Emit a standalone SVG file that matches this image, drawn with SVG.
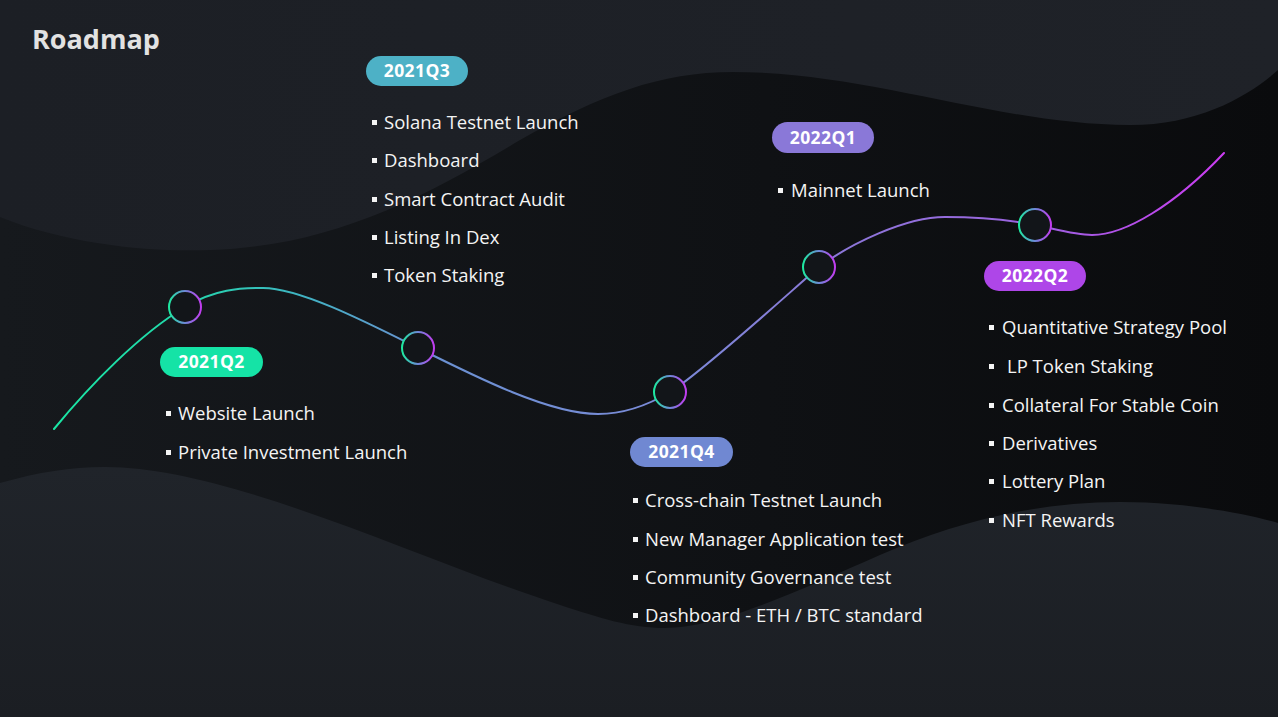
<svg xmlns="http://www.w3.org/2000/svg" width="1278" height="717" viewBox="0 0 1278 717">
  <defs>
    <linearGradient id="bg" x1="0" y1="0" x2="1" y2="0">
      <stop offset="0" stop-color="#16191d"/>
      <stop offset="0.6" stop-color="#0f1114"/>
      <stop offset="1" stop-color="#0a0b0d"/>
    </linearGradient>
    <linearGradient id="topwave" x1="0" y1="0" x2="1" y2="0">
      <stop offset="0" stop-color="#1c1f25"/>
      <stop offset="1" stop-color="#1f2228"/>
    </linearGradient>
    <linearGradient id="botwave" x1="0" y1="0" x2="0" y2="1">
      <stop offset="0" stop-color="#20242a"/>
      <stop offset="1" stop-color="#1b1e23"/>
    </linearGradient>
    <linearGradient id="curve" gradientUnits="userSpaceOnUse" x1="54" y1="0" x2="1224" y2="0">
      <stop offset="0" stop-color="#19e6a4"/>
      <stop offset="0.11" stop-color="#22d9ab"/>
      <stop offset="0.21" stop-color="#3fb4c3"/>
      <stop offset="0.31" stop-color="#6a92d2"/>
      <stop offset="0.53" stop-color="#7b8ad8"/>
      <stop offset="0.65" stop-color="#8a7ad8"/>
      <stop offset="0.84" stop-color="#9c62e0"/>
      <stop offset="1" stop-color="#cc3cf2"/>
    </linearGradient>
    <linearGradient id="ring" x1="0" y1="0.5" x2="1" y2="0.5">
      <stop offset="0" stop-color="#1de9a0"/>
      <stop offset="0.5" stop-color="#6e88d8"/>
      <stop offset="1" stop-color="#c23cf0"/>
    </linearGradient>
    <style>
      .title { font-family: "Open Sans", "Noto Sans", sans-serif; font-weight: 700; font-size: 27px; fill: #e2e2e2; }
      .badge-text { font-family: "Open Sans", "Noto Sans", sans-serif; font-weight: 700; font-size: 17.5px; fill: #ffffff; text-anchor: middle; letter-spacing: 0.4px; }
      .item { font-family: "Open Sans", "Noto Sans", sans-serif; font-size: 18.5px; fill: #f4f4f4; }
      .dot { fill: #f4f4f4; }
      .node-ring { fill: #121519; stroke: url(#ring); stroke-width: 2; }
      .line { fill: none; stroke: url(#curve); stroke-width: 2; stroke-linecap: round; }
    </style>
  </defs>

  <!-- background -->
  <rect x="0" y="0" width="1278" height="717" fill="url(#bg)"/>
  <path d="M0,0 V217 C70,245 150,252 210,250 C330,246 420,200 520,140 C600,95 660,72 733,72 C870,72 1000,125 1130,125 C1200,125 1250,95 1278,70 V0 Z" fill="url(#topwave)"/>
  <path d="M0,483 C40,472 70,467 105,467 C230,467 420,560 560,605 C600,618 630,628 665,628 C720,628 800,590 880,555 C960,520 1040,502 1120,502 C1180,502 1240,512 1278,523 V717 H0 Z" fill="url(#botwave)"/>

  <text class="title" x="32" y="49">Roadmap</text>

  <g id="connectors">
    <path class="line" d="M54,429 C90,385 140,334 185,307 C215,289 240,288 263,288 C300,288 368,323 418,348 C478,378 550,414 598,414 C625,414 650,404 670,392 C700,374 790,292 819,267 C850,244 905,217 945,217 C975,217 1010,220 1035,225 C1055,229 1075,235 1092,235 C1125,235 1175,205 1224,153"/>
  </g>

  <g id="m2021q2">
    <circle class="node-ring" cx="185" cy="307" r="16"/>
    <rect x="160" y="347" width="103" height="30" rx="15" fill="#15e3a6"/>
    <text class="badge-text" x="211.5" y="368">2021Q2</text>
    <rect class="dot" x="166" y="411" width="5" height="5"/>
    <text class="item" x="178" y="420">Website Launch</text>
    <rect class="dot" x="166" y="450" width="5" height="5"/>
    <text class="item" x="178" y="459">Private Investment Launch</text>
  </g>

  <g id="m2021q3">
    <circle class="node-ring" cx="418" cy="348" r="16"/>
    <rect x="366" y="56" width="102" height="30" rx="15" fill="#4db1c6"/>
    <text class="badge-text" x="417" y="77">2021Q3</text>
    <rect class="dot" x="372" y="120" width="5" height="5"/>
    <text class="item" x="384" y="129">Solana Testnet Launch</text>
    <rect class="dot" x="372" y="158" width="5" height="5"/>
    <text class="item" x="384" y="167">Dashboard</text>
    <rect class="dot" x="372" y="197" width="5" height="5"/>
    <text class="item" x="384" y="206">Smart Contract Audit</text>
    <rect class="dot" x="372" y="235" width="5" height="5"/>
    <text class="item" x="384" y="244">Listing In Dex</text>
    <rect class="dot" x="372" y="273" width="5" height="5"/>
    <text class="item" x="384" y="282">Token Staking</text>
  </g>

  <g id="m2021q4">
    <circle class="node-ring" cx="670" cy="392" r="16"/>
    <rect x="630" y="437" width="103" height="30" rx="15" fill="#7088d2"/>
    <text class="badge-text" x="681.5" y="458">2021Q4</text>
    <rect class="dot" x="633" y="498" width="5" height="5"/>
    <text class="item" x="645" y="507">Cross-chain Testnet Launch</text>
    <rect class="dot" x="633" y="537" width="5" height="5"/>
    <text class="item" x="645" y="546">New Manager Application test</text>
    <rect class="dot" x="633" y="575" width="5" height="5"/>
    <text class="item" x="645" y="584">Community Governance test</text>
    <rect class="dot" x="633" y="613" width="5" height="5"/>
    <text class="item" x="645" y="622">Dashboard - ETH / BTC standard</text>
  </g>

  <g id="m2022q1">
    <circle class="node-ring" cx="819" cy="267" r="16"/>
    <rect x="772" y="122" width="102" height="31" rx="15.5" fill="#8a78d8"/>
    <text class="badge-text" x="823" y="143.5">2022Q1</text>
    <rect class="dot" x="778" y="188" width="5" height="5"/>
    <text class="item" x="791" y="197">Mainnet Launch</text>
  </g>

  <g id="m2022q2">
    <circle class="node-ring" cx="1035" cy="225" r="16"/>
    <rect x="984" y="261" width="102" height="30" rx="15" fill="#ae46e8"/>
    <text class="badge-text" x="1035" y="282">2022Q2</text>
    <rect class="dot" x="989" y="325" width="5" height="5"/>
    <text class="item" x="1002" y="334">Quantitative Strategy Pool</text>
    <rect class="dot" x="989" y="364" width="5" height="5"/>
    <text class="item" x="1007" y="373">LP Token Staking</text>
    <rect class="dot" x="989" y="403" width="5" height="5"/>
    <text class="item" x="1002" y="412">Collateral For Stable Coin</text>
    <rect class="dot" x="989" y="441" width="5" height="5"/>
    <text class="item" x="1002" y="450">Derivatives</text>
    <rect class="dot" x="989" y="479" width="5" height="5"/>
    <text class="item" x="1002" y="488">Lottery Plan</text>
    <rect class="dot" x="989" y="518" width="5" height="5"/>
    <text class="item" x="1002" y="527">NFT Rewards</text>
  </g>
</svg>
